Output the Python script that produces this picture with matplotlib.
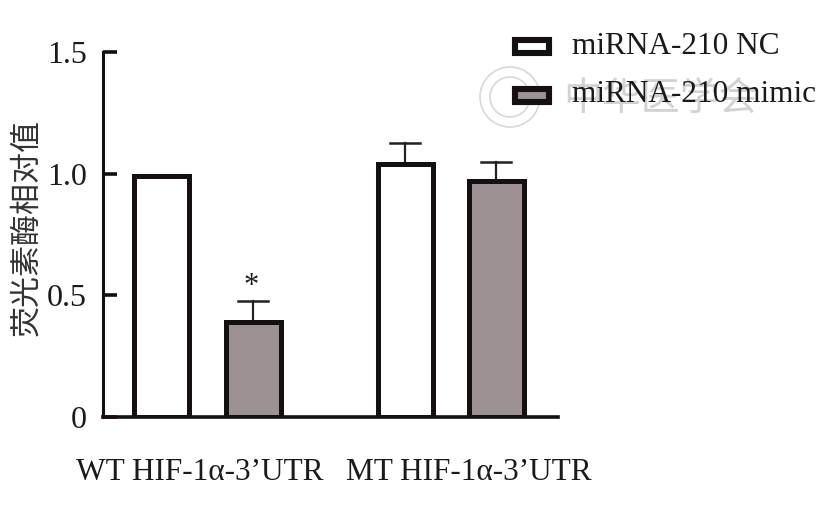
import matplotlib
matplotlib.use("Agg")
import matplotlib.pyplot as plt
from matplotlib.patches import Circle, Rectangle

groups = ["WT HIF-1α-3’UTR", "MT HIF-1α-3’UTR"]
series_names = ["miRNA-210 NC", "miRNA-210 mimic"]
x_pos = [161, 253, 405, 496]
values = [0.99, 0.39, 1.04, 0.97]
err_top = [0.99, 0.475, 1.125, 1.05]
bar_colors = ["white", "#9c9293", "white", "#9c9293"]
yticks = [0, 0.5, 1.0, 1.5]
yticklabels = ["0", "0.5", "1.0", "1.5"]
ylabel = "荧光素酶相对值"
watermark = "中华医学会"

W, H = 825, 508
plt.rcParams["font.family"] = ["Liberation Serif", "Noto Sans CJK SC"]

fig = plt.figure(figsize=(W / 100, H / 100), dpi=100)
ax = fig.add_axes([103 / W, 1 - 417 / H, (558 - 103) / W, 365 / H])
ax.set_xlim(103, 558)
ax.set_ylim(0, 1.5)

# error bars go under the bars
for x, v, e in zip(x_pos, values, err_top):
    if e > v:
        ax.plot([x, x], [v, e], color="#222222", lw=1.6, zorder=1)
        ax.plot([x - 15, x + 15], [e, e], color="#222222", lw=1.8, zorder=1)
ax.bar(x_pos, values, width=55, color=bar_colors, edgecolor="#141010", linewidth=3.6, zorder=2)
ax.text(x_pos[1] - 2, 0.475, "*", fontsize=22, ha="center", va="bottom", color="#222222",
        linespacing=0.8)

for s in ["top", "right"]:
    ax.spines[s].set_visible(False)
ax.spines["left"].set_linewidth(2.2)
ax.spines["bottom"].set_linewidth(2.6)
ax.spines["left"].set_color("#141010")
ax.spines["bottom"].set_color("#141010")
ax.set_xticks([])
ax.set_yticks(yticks)
ax.set_yticklabels(yticklabels, fontsize=23, color="#1a1a1a")
ax.tick_params(axis="y", direction="in", length=10, width=2.6, color="#141010", pad=11.5)

fig.text(199.5 / W, 1 - 473 / H, groups[0], fontsize=22.5, ha="center", va="center", color="#1a1a1a")
fig.text(468.5 / W, 1 - 473 / H, groups[1], fontsize=22.5, ha="center", va="center", color="#1a1a1a")
fig.text(27 / W, 1 - 228 / H, ylabel, fontsize=22.3, rotation=90, ha="center", va="center",
         color="#333333", family=["Noto Sans CJK SC"])

# faint seal and watermark
for r in [30, 20]:
    fig.add_artist(Circle((510, H - 97), r, transform=None, fill=False,
                          edgecolor="#d8d8d8", linewidth=1.2))
fig.text(660 / W, 1 - 100 / H, watermark, fontsize=28, ha="center", va="center", color="#d2d2d2",
         style="italic", family=["Noto Sans CJK SC"])

# legend
leg_y = [46, 95]
leg_fill = ["white", bar_colors[1]]
for y, c, name in zip(leg_y, leg_fill, series_names):
    fig.add_artist(Rectangle((515 / W, 1 - (y + 6.5) / H), 33.5 / W, 13 / H, transform=fig.transFigure,
                             facecolor=c, edgecolor="#141010", linewidth=4.4))
    fig.text(572 / W, 1 - y / H, name, fontsize=22.5, ha="left", va="center", color="#1a1a1a")

fig.savefig("out.png", dpi=100)
